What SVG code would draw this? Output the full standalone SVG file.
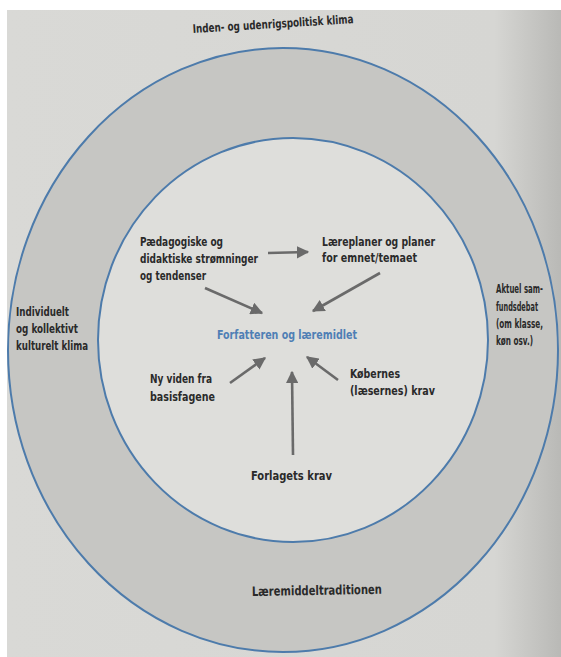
<svg xmlns="http://www.w3.org/2000/svg" width="561" height="657" viewBox="0 0 561 657">
<style>
text{font-family:"DejaVu Sans Condensed","DejaVu Sans","Liberation Sans",sans-serif;font-weight:bold;font-size:12px;fill:#2a2a2a}
.blue{fill:#4f7fb5}
.ring{stroke:#4d7bab;stroke-width:2;}
.arr{stroke:#6a6a6a;stroke-width:2.6;fill:none;marker-end:url(#ah)}
</style>
<defs>
<linearGradient id="bg" x1="0" y1="0" x2="1" y2="0">
<stop offset="0" stop-color="#d9d9d6"/>
<stop offset="0.88" stop-color="#d6d6d3"/>
<stop offset="1" stop-color="#b9b9b6"/>
</linearGradient>
<marker id="ah" viewBox="0 0 10 10" refX="9" refY="5" markerWidth="4.8" markerHeight="4.8" orient="auto" markerUnits="strokeWidth">
<path d="M0,0 L10,5 L0,10 z" fill="#6a6a6a"/>
</marker>
</defs>
<rect width="561" height="657" fill="#ffffff"/>
<rect x="7" y="10" width="554" height="647" fill="url(#bg)"/>
<g id="outer-ring">
<ellipse class="ring" cx="283" cy="350" rx="275" ry="302" fill="#c6c6c3"/>
</g>
<g id="inner-circle">
<ellipse class="ring" cx="293" cy="340" rx="195" ry="202" fill="#dededb"/>
</g>
<g id="n-top"><text x="193" y="33" transform="rotate(-3.5 193 33)" textLength="161" lengthAdjust="spacingAndGlyphs">Inden- og udenrigspolitisk klima</text></g>
<g id="n-left">
<text x="16" y="316" textLength="53" lengthAdjust="spacingAndGlyphs">Individuelt</text>
<text x="16" y="333" textLength="62" lengthAdjust="spacingAndGlyphs">og kollektivt</text>
<text x="16" y="350" textLength="72" lengthAdjust="spacingAndGlyphs">kulturelt klima</text>
</g>
<g id="n-right" style="font-size:9.5px">
<text x="496" y="293" textLength="47" lengthAdjust="spacingAndGlyphs">Aktuel sam-</text>
<text x="496" y="311" textLength="42" lengthAdjust="spacingAndGlyphs">fundsdebat</text>
<text x="496" y="328" textLength="47" lengthAdjust="spacingAndGlyphs">(om klasse,</text>
<text x="496" y="345" textLength="37" lengthAdjust="spacingAndGlyphs">køn osv.)</text>
</g>
<g id="n-bottom"><text x="252" y="596" transform="rotate(-1 252 596)" style="font-size:13px" textLength="130" lengthAdjust="spacingAndGlyphs">Læremiddeltraditionen</text></g>
<g id="n-paed">
<text x="140" y="246" textLength="83" lengthAdjust="spacingAndGlyphs">Pædagogiske og</text>
<text x="140" y="263" textLength="118" lengthAdjust="spacingAndGlyphs">didaktiske strømninger</text>
<text x="140" y="280" textLength="66" lengthAdjust="spacingAndGlyphs">og tendenser</text>
</g>
<g id="n-laere">
<text x="322" y="246" textLength="113" lengthAdjust="spacingAndGlyphs">Læreplaner og planer</text>
<text x="322" y="262" textLength="95" lengthAdjust="spacingAndGlyphs">for emnet/temaet</text>
</g>
<g id="n-center"><text class="blue" x="217" y="339" textLength="140" lengthAdjust="spacingAndGlyphs">Forfatteren og læremidlet</text></g>
<g id="n-ny">
<text x="150" y="383" textLength="62" lengthAdjust="spacingAndGlyphs">Ny viden fra</text>
<text x="150" y="401" textLength="65" lengthAdjust="spacingAndGlyphs">basisfagene</text>
</g>
<g id="n-kob">
<text x="350" y="378" textLength="50" lengthAdjust="spacingAndGlyphs">Købernes</text>
<text x="350" y="395" textLength="85" lengthAdjust="spacingAndGlyphs">(læsernes) krav</text>
</g>
<g id="n-forlag"><text x="251" y="480" textLength="81" lengthAdjust="spacingAndGlyphs">Forlagets krav</text></g>
<g id="connectors">
<line class="arr" x1="268" y1="253" x2="308" y2="252"/>
<line class="arr" x1="205" y1="288" x2="262" y2="313"/>
<line class="arr" x1="380" y1="273" x2="313" y2="311"/>
<line class="arr" x1="230" y1="383" x2="265" y2="358"/>
<line class="arr" x1="293" y1="455" x2="292" y2="372"/>
<line class="arr" x1="338" y1="380" x2="307" y2="357"/>
</g>
</svg>
